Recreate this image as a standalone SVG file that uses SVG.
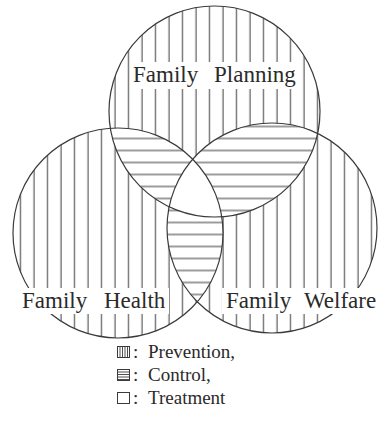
<svg xmlns="http://www.w3.org/2000/svg" width="381" height="438" viewBox="0 0 381 438">
<style>
.o{fill:none;stroke:#3a3a3a;stroke-width:1.2}
.ic{fill:#fff;stroke:#3a3a3a;stroke-width:1}
.il{stroke:#3a3a3a;stroke-width:0.9}
.bg{fill:#fff}
text{font-family:"Liberation Serif","Times New Roman",serif;fill:#2a2a2a}
.lbl{font-size:23px}
.lg{font-size:19px}
</style>
<defs>
<clipPath id="cT"><circle cx="214.5" cy="111.5" r="105.5"/></clipPath>
<clipPath id="cL"><circle cx="118" cy="233" r="105"/></clipPath>
<clipPath id="cR"><circle cx="272" cy="228" r="105"/></clipPath>
<pattern id="pv" patternUnits="userSpaceOnUse" x="0" y="0" width="13.5" height="20"><line x1="7" y1="0" x2="7" y2="20" stroke="#3a3a3a" stroke-width="1"/></pattern>
<pattern id="ph" patternUnits="userSpaceOnUse" x="0" y="0.5" width="20" height="12"><line x1="0" y1="6" x2="20" y2="6" stroke="#3a3a3a" stroke-width="1"/></pattern>
</defs>
<rect width="381" height="438" fill="#fff"/>
<g id="hatching">
<rect x="0" y="0" width="381" height="345" fill="url(#pv)" clip-path="url(#cT)"/>
<rect x="0" y="0" width="381" height="345" fill="url(#pv)" clip-path="url(#cL)"/>
<rect x="0" y="0" width="381" height="345" fill="url(#pv)" clip-path="url(#cR)"/>
<g clip-path="url(#cT)"><rect x="0" y="0" width="381" height="345" fill="#fff" clip-path="url(#cL)"/><rect x="0" y="0" width="381" height="345" fill="url(#ph)" clip-path="url(#cL)"/></g>
<g clip-path="url(#cT)"><rect x="0" y="0" width="381" height="345" fill="#fff" clip-path="url(#cR)"/><rect x="0" y="0" width="381" height="345" fill="url(#ph)" clip-path="url(#cR)"/></g>
<g clip-path="url(#cL)"><rect x="0" y="0" width="381" height="345" fill="#fff" clip-path="url(#cR)"/><rect x="0" y="0" width="381" height="345" fill="url(#ph)" clip-path="url(#cR)"/></g>
<g clip-path="url(#cT)"><g clip-path="url(#cL)"><rect x="0" y="0" width="381" height="345" fill="#fff" clip-path="url(#cR)"/></g></g>
</g>
<g id="family-planning">
<circle class="o" cx="214.5" cy="111.5" r="105.5"/>
<rect class="bg" x="130" y="62" width="171" height="27"/>
<text class="lbl" x="133" y="82">Family</text>
<text class="lbl" x="214" y="82">Planning</text>
</g>
<g id="family-health">
<circle class="o" cx="118" cy="233" r="105"/>
</g>
<g id="family-welfare">
<circle class="o" cx="272" cy="228" r="105"/>
</g>
<g id="labels-bottom">
<rect class="bg" x="19" y="288" width="150" height="26"/>
<text class="lbl" x="22" y="308">Family</text>
<text class="lbl" x="104" y="308">Health</text>
<rect class="bg" x="222" y="288" width="159" height="26"/>
<text class="lbl" x="226" y="308">Family</text>
<text class="lbl" x="304" y="308">Welfare</text>
</g>
<g id="legend">
<rect class="ic" x="117.5" y="346.5" width="12" height="11"/>
<path class="il" d="M120 347V357M122.5 347V357M125 347V357M127.5 347V357"/>
<text class="lg" x="133" y="358">:</text>
<text class="lg" x="148" y="358">Prevention,</text>
<rect class="ic" x="117.5" y="369.5" width="12" height="11"/>
<path class="il" d="M118 372H129M118 374.5H129M118 377H129M118 379.5H129"/>
<text class="lg" x="133" y="381">:</text>
<text class="lg" x="148" y="381">Control,</text>
<rect class="ic" x="117.5" y="392.5" width="12" height="11"/>
<text class="lg" x="133" y="404">:</text>
<text class="lg" x="148" y="404">Treatment</text>
</g>
</svg>
